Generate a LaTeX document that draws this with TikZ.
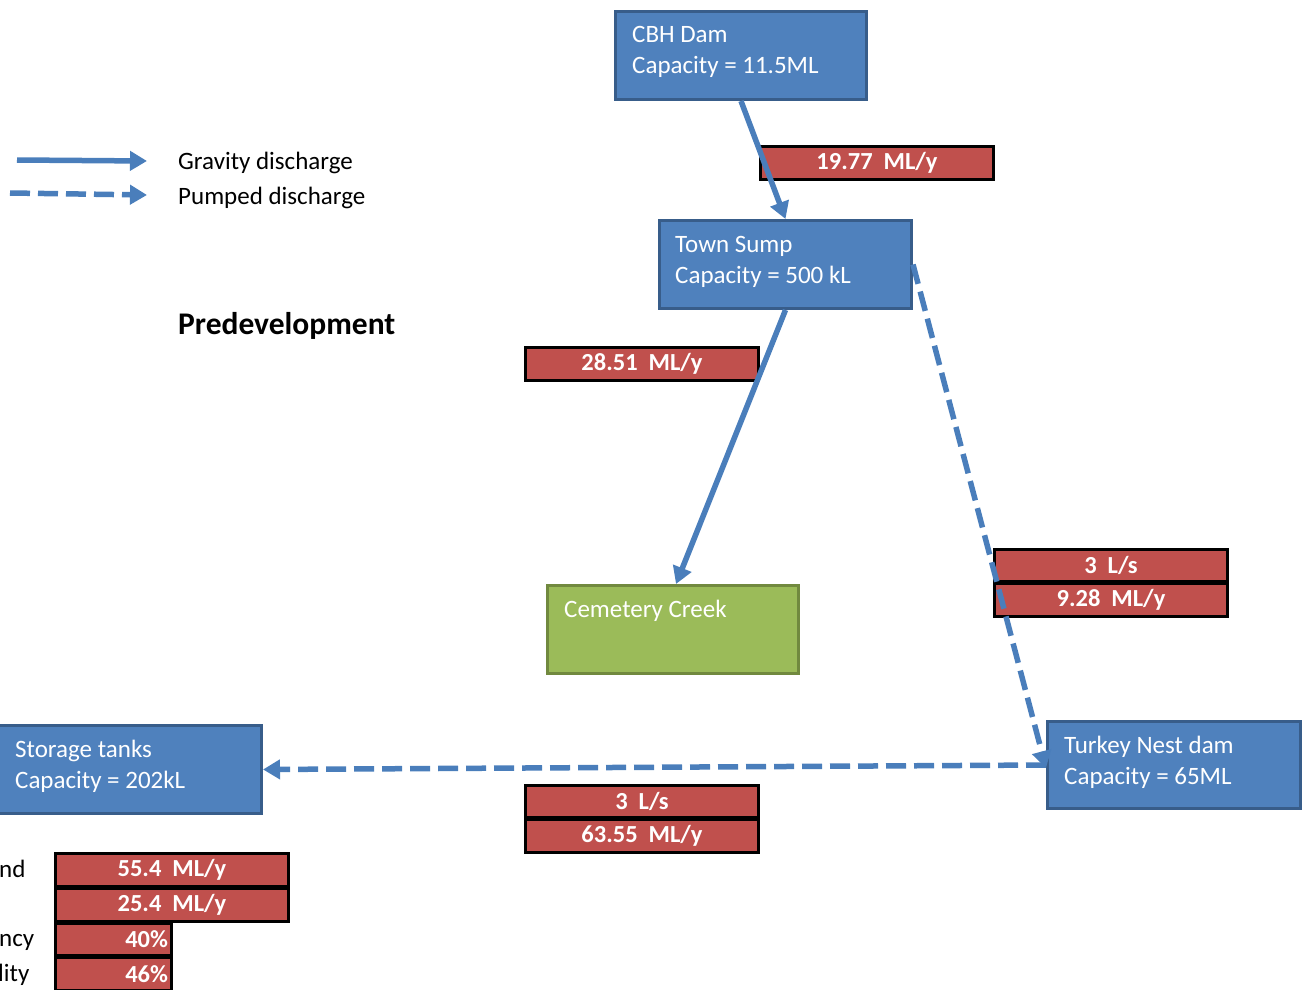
\documentclass[tikz,border=0pt]{standalone}
\usepackage{fontspec}
\setmainfont{Carlito}
\usetikzlibrary{arrows.meta}
\definecolor{boxblue}{HTML}{4F81BD}
\definecolor{boxblueedge}{HTML}{385D8A}
\definecolor{boxgreen}{HTML}{9BBB59}
\definecolor{boxgreenedge}{HTML}{71893F}
\definecolor{labred}{HTML}{C0504D}
\definecolor{flowblue}{HTML}{4A7EBB}
\newcommand{\gp}{\hspace{11pt}}
\tikzset{
  bluebox/.style={draw=boxblueedge, fill=boxblue, line width=3pt, anchor=north west, minimum width=250pt, minimum height=88pt, inner sep=0pt},
  greenbox/.style={draw=boxgreenedge, fill=boxgreen, line width=3pt, anchor=north west, minimum width=251pt, minimum height=88pt, inner sep=0pt},
  boxtext/.style={text=white, anchor=base west, inner sep=0pt, font=\fontsize{25}{31}\selectfont},
  redbox/.style={draw=black, fill=labred, line width=3pt, anchor=north west, minimum width=233pt, minimum height=33pt, inner sep=0pt, text=white, font=\fontsize{24.5}{28}\selectfont\bfseries},
  legtext/.style={anchor=base west, inner sep=0pt, font=\fontsize{25}{31}\selectfont},
  gravity/.style={draw=flowblue, line width=5.5pt, -{Triangle[width=19pt,length=17pt]}},
  pumped/.style={gravity, dash pattern=on 20pt off 8pt},
}
\begin{document}
\begin{tikzpicture}[x=1pt, y=-1pt]
\useasboundingbox (0,0) rectangle (1304,990);
\clip (0,0) rectangle (1304,990);

% boxes
\node[bluebox, minimum width=251pt] (cbh) at (614,10) {};
\node[boxtext] (cbh1) at (632,43) {CBH Dam};
\node[boxtext] (cbh2) at (632,74) {Capacity = 11.5ML};

\node[bluebox, minimum width=252pt] (sump) at (658,219) {};
\node[boxtext] (sump1) at (675,252) {Town Sump};
\node[boxtext] (sump2) at (675,283) {Capacity = 500 kL};

\node[greenbox] (creek) at (546,584) {};
\node[boxtext] (creek1) at (564,617) {Cemetery Creek};

\node[bluebox, minimum width=253pt, minimum height=87pt] (turkey) at (1046,720) {};
\node[boxtext] (turkey1) at (1064,753) {Turkey Nest dam};
\node[boxtext] (turkey2) at (1064,784) {Capacity = 65ML};

\node[bluebox, minimum width=265pt, minimum height=88pt] (storage) at (-5,724) {};
\node[boxtext] (storage1) at (15,757) {Storage tanks};
\node[boxtext] (storage2) at (15,788) {Capacity = 202kL};

% red labels
\node[redbox] (l1) at (759,145) {19.77\gp ML/y};
\node[redbox] (l2) at (524,346) {28.51\gp ML/y};
\node[redbox, minimum height=32pt] (l3) at (993,548) {3\gp L/s};
\node[redbox] (l4) at (993,582) {9.28\gp ML/y};
\node[redbox, minimum height=32pt] (l5) at (524,784) {3\gp L/s};
\node[redbox] (l6) at (524,818) {63.55\gp ML/y};

\node[redbox] (l7) at (54,852) {55.4\gp ML/y};
\node[redbox] (l8) at (54,887) {25.4\gp ML/y};
\node[redbox, minimum width=116pt, minimum height=32pt, align=right, text width=109pt] (l9) at (54,922) {40\%};
\node[redbox, minimum width=116pt, align=right, text width=109pt] (l10) at (54,956) {46\%};

% cut-off side texts
\node[legtext] (s1) at (-1,877) {nd};
\node[legtext] (s3) at (-1,946) {ncy};
\node[legtext] (s4) at (-2,981) {lity};

% legend
\coordinate (g1) at (17,160);
\coordinate (g2) at (147,161);
\coordinate (p1) at (10,193);
\coordinate (p2) at (147,195);
\draw[gravity] (g1) -- (g2);
\draw[pumped] (p1) -- (p2);
\node[legtext] (lg1) at (178,169) {Gravity discharge};
\node[legtext] (lg2) at (178,204) {Pumped discharge};

\node[legtext, font=\fontsize{31.5}{36}\selectfont\bfseries] (title) at (178,334) {Predevelopment};

% connectors
\draw[gravity] (cbh.south) -- (sump.north);
\draw[gravity] (sump.south) -- ([xshift=3pt]creek.north);
\draw[pumped] (sump.east) -- ([yshift=-3pt]turkey.west);
\draw[pumped] (turkey.west) -- (storage.east);
\end{tikzpicture}
\end{document}
